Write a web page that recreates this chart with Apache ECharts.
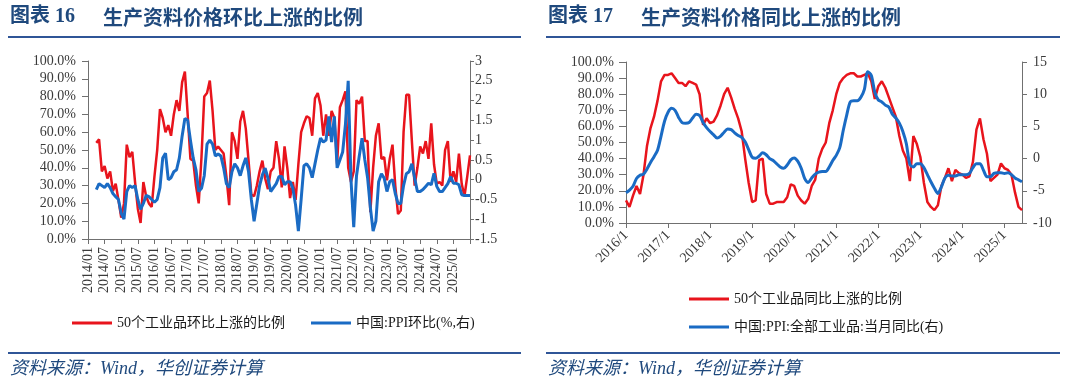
<!DOCTYPE html>
<html><head><meta charset="utf-8">
<script src="https://cdn.jsdelivr.net/npm/echarts@6/dist/echarts.min.js"></script>
<style>html,body{margin:0;padding:0;background:#fff}#c{width:1080px;height:386px}</style>
</head><body><div id="c"></div>
<script>
// ---- Figure 16: month-on-month (monthly, 2014/01 .. 2025/07) ----
const leftRatio = [
  null,null,null,54,56,38,41,34,38,27,
  31,22,12,20,53,46,49,32,17,9,
  32,24,20,18,35,50,73,68,60,64,
  58,70,78,72,88,94,70,45,44,30,
  20,46,80,82,89,72,50,52,50,48,
  35,19,60,55,45,66,72,62,44,25,
  24,30,38,44,34,28,38,40,55,45,
  29,52,40,23,32,22,42,60,65,69,
  68,58,79,82,75,58,70,58,72,68,
  42,74,78,83,40,32,38,78,76,80,
  55,55,15,40,58,65,45,46,33,45,
  53,30,14,16,60,81,81,55,30,40,
  52,48,55,45,65,42,31,32,30,50,
  55,32,38,32,48,31,24,35,47
];
const leftPPI = [
  null,null,null,-0.25,-0.1,-0.15,-0.2,-0.1,-0.2,-0.35,
  -0.43,-0.5,-0.85,-1.0,-0.3,-0.15,-0.2,-0.15,-0.5,-0.75,
  -0.6,-0.4,-0.43,-0.5,-0.57,-0.5,-0.2,0.55,0.67,0.0,
  0.05,0.2,0.25,0.55,1.1,1.55,1.5,1.0,0.55,0.25,
  -0.3,-0.22,0.1,0.9,1.0,0.9,0.6,0.65,0.6,0.3,
  -0.1,-0.2,0.2,0.4,0.3,0.1,0.35,0.55,0.2,-0.5,
  -1.05,-0.6,-0.15,0.12,0.29,0.04,-0.3,-0.2,-0.1,0.08,
  0.08,-0.13,-0.05,-0.05,-0.22,-0.65,-1.3,-0.5,0.35,0.4,
  0.3,0.05,0.4,0.75,1.05,0.95,1.0,1.6,0.95,1.6,
  0.3,0.5,0.7,1.4,2.5,0.0,-1.2,0.1,0.6,1.05,
  0.5,0.05,-0.7,-1.3,-1.05,-0.05,0.15,0.04,-0.3,-0.05,
  0.0,-0.35,-0.6,-0.6,-0.15,0.15,0.2,0.4,0.04,-0.3,
  -0.3,-0.25,-0.17,-0.09,-0.13,0.16,-0.17,-0.3,-0.3,-0.2,
  -0.1,0.08,-0.09,-0.09,-0.13,-0.38,-0.4,-0.4,-0.4
];
// ---- Figure 17: year-on-year (monthly, 2016/1 .. 2025/6) ----
const rightRatio = [
  14,10,17,23,18,30,48,59,66,76,
  88,92,92,93,90,87,87,85,88,87,
  86,80,61,65,62,63,67,73,80,84,
  78,71,65,57,40,25,13,14,39,40,
  18,12,12,13,13,13,16,24,23,17,
  14,12,15,23,27,40,46,50,62,70,
  80,87,90,92,93,93,91,91,92,93,
  88,77,85,88,84,78,72,66,54,45,
  40,26,54,49,41,25,13,10,8,11,
  23,28,34,26,33,31,30,28,29,38,
  58,65,52,43,26,28,30,37,34,33,
  30,19,10,8
];
const rightPPI = [
  -5.3,-4.9,-4.3,-3.1,-2.6,-2.4,-1.6,-0.6,0.3,1.3,
  3.5,5.8,7.2,7.8,7.5,6.4,5.6,5.5,5.6,6.3,
  6.9,6.7,5.6,4.8,4.2,3.7,3.2,3.5,4.1,4.6,
  4.5,4.0,3.6,3.3,2.6,1.4,0.2,0.05,0.4,0.9,
  0.6,0.0,-0.3,-0.8,-1.3,-1.5,-1.0,-0.2,0.1,-0.4,
  -1.5,-3.1,-3.7,-3.0,-2.4,-2.1,-2.0,-2.0,-1.3,-0.3,
  0.5,1.7,4.4,6.8,8.8,9.0,9.0,9.5,10.7,13.5,
  12.9,10.3,9.1,8.8,8.3,8.0,6.9,6.3,5.5,4.2,
  2.3,-0.9,-1.3,-0.8,-0.8,-1.4,-2.5,-3.6,-4.6,-5.4,
  -4.4,-3.0,-2.6,-2.7,-2.7,-2.5,-2.5,-2.5,-2.3,-1.4,
  -0.8,-0.8,-1.8,-2.8,-2.8,-2.3,-2.2,-2.2,-2.3,-2.2,
  -2.5,-3.0,-3.3,-3.6
];
function monthRange(y0, m0, y1, m1, pad) {
  const out = [];
  for (let y = y0, m = m0; y < y1 || (y === y1 && m <= m1); ) {
    out.push(y + '/' + (pad && m < 10 ? '0' + m : String(m)));
    m++; if (m > 12) { m = 1; y++; }
  }
  return out;
}
const leftMonths = monthRange(2014, 1, 2025, 7, true);
const rightMonths = monthRange(2016, 1, 2025, 6, false);

const SERIF = "'Liberation Serif','Noto Sans CJK SC',serif";
const AXIS_COLOR = '#707070';
const LABEL_COLOR = '#3a3a3a';
const RED = '#e8141c';
const BLUE = '#1a6bc4';
const NAVY = '#1f497d';
const RULE = '#2f5597';

const chart = echarts.init(document.getElementById('c'), null, {renderer: 'canvas', width: 1080, height: 386});

function xAx(grid, data, every, rotate, margin, lastHidden) {
  return {
    type: 'category', gridIndex: grid, data: data, boundaryGap: false,
    axisLine: {onZero: false, lineStyle: {color: AXIS_COLOR, width: 1}},
    axisTick: {interval: (i) => i % every === 0, length: 5, lineStyle: {color: AXIS_COLOR}},
    axisLabel: {interval: (i) => i % every === 0 && !(lastHidden && i === data.length - 1),
      rotate: rotate, margin: margin, fontSize: 14, fontFamily: SERIF, color: LABEL_COLOR},
    splitLine: {show: false}
  };
}
function yAx(grid, pos, min, max, interval, margin, tick, fmt) {
  return {
    type: 'value', gridIndex: grid, position: pos, min: min, max: max, interval: interval,
    axisLine: {show: true, onZero: false, lineStyle: {color: AXIS_COLOR, width: 1}},
    axisTick: {show: true, length: tick, lineStyle: {color: AXIS_COLOR}},
    axisLabel: {margin: margin, fontSize: 14, fontFamily: SERIF, color: LABEL_COLOR, formatter: fmt},
    splitLine: {show: false}
  };
}
const pct = (v) => v.toFixed(1) + '%';
function legendItem(name, left, top) {
  return {data: [name], left: left, top: top, padding: 0, icon: 'rect', itemWidth: 40, itemHeight: 3,
    textStyle: {fontSize: 14, fontFamily: SERIF, color: '#1a1a1a'}, selectedMode: false};
}
function txt(x, y, text, font, fill) {
  return {type: 'text', x: x, y: y, style: {text: text, font: font, fill: fill, verticalAlign: 'middle'}};
}
function rule(x1, x2, y) {
  return {type: 'line', shape: {x1: x1, y1: y, x2: x2, y2: y}, style: {stroke: RULE, lineWidth: 2}};
}

chart.setOption({
  animation: false,
  backgroundColor: '#fff',
  grid: [
    {left: 88, top: 61, width: 382, height: 178},
    {left: 626, top: 62, width: 396, height: 161}
  ],
  xAxis: [
    xAx(0, leftMonths, 6, 90, 8, true),
    xAx(1, rightMonths, 12, 45, 10, false)
  ],
  yAxis: [
    yAx(0, 'left', 0, 100, 10, 12, 6, pct),
    yAx(0, 'right', -1.5, 3, 0.5, 5, 4, null),
    yAx(1, 'left', 0, 100, 10, 12, 7, pct),
    yAx(1, 'right', -10, 15, 5, 11, 5, null)
  ],
  legend: [
    legendItem('50个工业品环比上涨的比例', 72, 316),
    legendItem('中国:PPI环比(%,右)', 311, 316),
    legendItem('50个工业品同比上涨的比例', 689, 292),
    legendItem('中国:PPI:全部工业品:当月同比(右)', 689, 320)
  ],
  series: [
    {name: '50个工业品环比上涨的比例', type: 'line', xAxisIndex: 0, yAxisIndex: 0, data: leftRatio,
      showSymbol: false, lineStyle: {color: RED, width: 2.5}, itemStyle: {color: RED}},
    {name: '中国:PPI环比(%,右)', type: 'line', xAxisIndex: 0, yAxisIndex: 1, data: leftPPI,
      showSymbol: false, lineStyle: {color: BLUE, width: 3}, itemStyle: {color: BLUE}},
    {name: '50个工业品同比上涨的比例', type: 'line', xAxisIndex: 1, yAxisIndex: 2, data: rightRatio,
      showSymbol: false, lineStyle: {color: RED, width: 2.5}, itemStyle: {color: RED}},
    {name: '中国:PPI:全部工业品:当月同比(右)', type: 'line', xAxisIndex: 1, yAxisIndex: 3, data: rightPPI,
      showSymbol: false, smooth: 0.3, lineStyle: {color: BLUE, width: 3}, itemStyle: {color: BLUE}}
  ],
  graphic: [
    txt(10, 17, '图表 16', "bold 20px 'Liberation Serif','Noto Sans CJK SC'", NAVY),
    txt(103, 17, '生产资料价格环比上涨的比例', "bold 20px 'Noto Sans CJK SC'", NAVY),
    txt(548, 17, '图表 17', "bold 20px 'Liberation Serif','Noto Sans CJK SC'", NAVY),
    txt(641, 17, '生产资料价格同比上涨的比例', "bold 20px 'Noto Sans CJK SC'", NAVY),
    rule(8, 521, 37), rule(8, 521, 353),
    rule(546, 1060, 37), rule(546, 1060, 353),
    txt(10, 369, '资料来源：Wind，华创证券计算', "italic 18px 'Liberation Serif','Noto Sans CJK SC'", NAVY),
    txt(548, 369, '资料来源：Wind，华创证券计算', "italic 18px 'Liberation Serif','Noto Sans CJK SC'", NAVY)
  ]
});
</script>
</body></html>
